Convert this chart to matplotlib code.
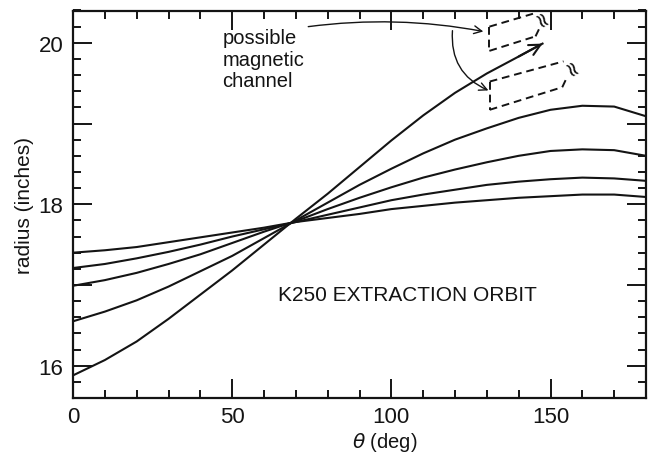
import matplotlib
matplotlib.use('Agg')
import matplotlib.pyplot as plt
from matplotlib.ticker import MultipleLocator, FuncFormatter

# ---- data ----
theta = [0, 10, 20, 30, 40, 50, 60, 70, 80, 90, 100, 110, 120, 130, 140, 150, 160, 170, 180]
theta_a = [0, 10, 20, 30, 40, 50, 60, 70, 80, 90, 100, 110, 120, 130, 140, 147.5]
r_a = [15.88, 16.07, 16.30, 16.58, 16.88, 17.18, 17.50, 17.82, 18.13, 18.46, 18.79, 19.10, 19.38, 19.62, 19.83, 19.99]
r_b = [16.55, 16.67, 16.81, 16.98, 17.17, 17.36, 17.58, 17.80, 18.02, 18.24, 18.44, 18.63, 18.80, 18.94, 19.07, 19.17, 19.22, 19.21, 19.09]
r_c = [16.99, 17.06, 17.15, 17.26, 17.38, 17.52, 17.66, 17.79, 17.94, 18.08, 18.21, 18.33, 18.43, 18.52, 18.60, 18.66, 18.68, 18.67, 18.60]
r_d = [17.21, 17.26, 17.33, 17.41, 17.50, 17.60, 17.69, 17.78, 17.87, 17.96, 18.05, 18.12, 18.18, 18.24, 18.28, 18.31, 18.33, 18.32, 18.29]
r_e = [17.40, 17.43, 17.47, 17.53, 17.59, 17.65, 17.71, 17.78, 17.83, 17.88, 17.94, 17.98, 18.02, 18.05, 18.08, 18.10, 18.12, 18.12, 18.09]

x_ticks = [0, 50, 100, 150]
y_ticks = [16, 18, 20]

title_text = 'K250 EXTRACTION ORBIT'
note_text = 'possible\nmagnetic\nchannel'

# annotation geometry (dashed channel outlines), in data units
box1_theta = [[130.8, 130.8], [130.8, 145.3], [130.8, 144.5], [145.3, 146.4]]
box1_r = [[20.20, 19.90], [19.90, 20.08], [20.20, 20.36], [20.08, 20.17]]
box2_theta = [[130.9, 130.9], [130.9, 154.1], [130.9, 153.7], [153.7, 154.9]]
box2_r = [[19.52, 19.17], [19.52, 19.77], [19.17, 19.45], [19.45, 19.55]]

INK = '#141414'
plt.rcParams['font.family'] = ['Liberation Sans', 'DejaVu Sans']
plt.rcParams['mathtext.fontset'] = 'dejavusans'

fig = plt.figure(figsize=(6.49, 4.56), dpi=100)
ax = fig.add_axes([73 / 649, 57 / 456, 573 / 649, 387.5 / 456])
ax.set_xlim(0, 180)
ax.set_ylim(15.6, 20.4)

for r in (r_b, r_c, r_d, r_e):
    ax.plot(theta, r, color=INK, lw=1.5, solid_joinstyle='round')
ax.plot(theta_a, r_a, color=INK, lw=1.5, solid_joinstyle='round')
ax.annotate('', xy=(theta_a[-1], r_a[-1]), xytext=(theta_a[-2], r_a[-2]),
            arrowprops=dict(arrowstyle='->', lw=1.5, color=INK, mutation_scale=20,
                            shrinkA=0, shrinkB=0))

# dashed channel outlines
for tt, rr in zip(box1_theta, box1_r):
    ax.plot(tt, rr, color=INK, lw=1.4, ls=(0, (4, 2.5)), clip_on=False)
for tt, rr in zip(box2_theta, box2_r):
    ax.plot(tt, rr, color=INK, lw=1.4, ls=(0, (4, 2.5)), clip_on=False)
ax.text(146.8, 20.27, '\u2248', rotation=-60, fontsize=15, ha='center', va='center',
        family=['DejaVu Sans'], color=INK)
ax.text(156.0, 19.66, '\u2248', rotation=-60, fontsize=15, ha='center', va='center',
        family=['DejaVu Sans'], color=INK)

# annotation text and arrows
ax.text(46.9, 20.18, note_text, ha='left', va='top', fontsize=14.5, color=INK, linespacing=1.15)
ax.annotate('', xy=(128.9, 20.14), xytext=(73.9, 20.20),
            arrowprops=dict(arrowstyle='->', lw=1.0, color=INK, mutation_scale=14,
                            shrinkA=0, shrinkB=0, connectionstyle='arc3,rad=-0.08'))
ax.annotate('', xy=(130.5, 19.41), xytext=(119.2, 20.15),
            arrowprops=dict(arrowstyle='->', lw=1.0, color=INK, mutation_scale=14,
                            shrinkA=0, shrinkB=0, connectionstyle='arc3,rad=0.35'))

ax.text(64.5, 16.82, title_text, ha='left', va='baseline', fontsize=15, color=INK)

# axes styling
for s in ax.spines.values():
    s.set_linewidth(1.6)
    s.set_color(INK)
ax.set_xticks(x_ticks)
ax.xaxis.set_minor_locator(MultipleLocator(10))
ax.yaxis.set_major_locator(MultipleLocator(1))
ax.yaxis.set_minor_locator(MultipleLocator(0.2))
ax.yaxis.set_major_formatter(FuncFormatter(
    lambda v, p: f'{v:.0f}' if int(round(v)) in y_ticks else ''))
ax.tick_params(which='both', direction='in', top=True, right=True, width=1.4, color=INK)
ax.tick_params(which='major', length=14, labelsize=16, labelcolor=INK)
ax.tick_params(axis='x', which='major', pad=6)
ax.tick_params(axis='y', which='major', pad=7)
ax.tick_params(which='minor', length=6)

ax.set_ylabel('radius (inches)', fontsize=15, color=INK)
ax.yaxis.set_label_coords(-0.068, 0.5)
ax.set_xlabel(r'$\theta$ (deg)', fontsize=14.5, color=INK)
ax.xaxis.set_label_coords(0.5445, -0.083)

fig.savefig('out.png', dpi=100)
